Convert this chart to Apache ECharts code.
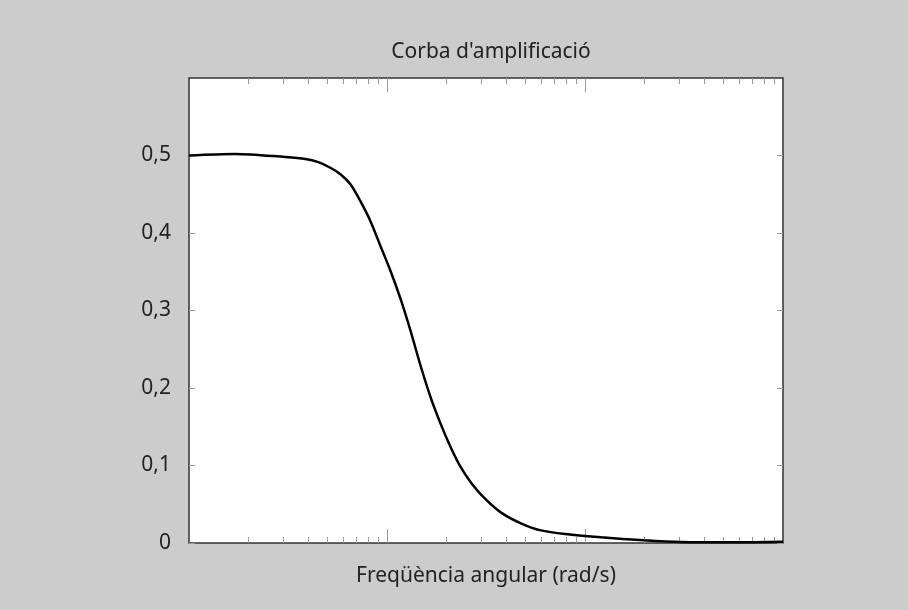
<!DOCTYPE html>
<html>
<head>
<meta charset="utf-8">
<script src="https://cdn.jsdelivr.net/npm/echarts@6/dist/echarts.min.js"></script>
<style>
  html, body { margin: 0; padding: 0; background: #cccccc; }
  #chart { width: 908px; height: 610px; }
</style>
</head>
<body>
<div id="chart"></div>
<script>
// Amplification curve: gain versus angular frequency (log scale)
const freq = [0.1, 0.171, 0.306, 0.3867, 0.45, 0.5175, 0.5818, 0.6535, 0.734, 0.825, 0.9272, 1.042, 1.171, 1.315, 1.478, 1.661, 1.866, 2.097, 2.357, 2.648, 3.081, 3.754, 4.742, 5.989, 8.201, 12.05, 19.89, 30.63, 54.86, 100];
const gain = [0.5, 0.502, 0.498, 0.4955, 0.4914, 0.4842, 0.4758, 0.4629, 0.4411, 0.4153, 0.3831, 0.351, 0.3149, 0.2737, 0.2287, 0.1879, 0.1537, 0.1236, 0.0978, 0.0785, 0.0588, 0.0395, 0.0254, 0.0163, 0.0112, 0.0073, 0.0035, 0.0013, 0.0009, 0.0015];

const majorTicks = [1, 10];
const minorTicks = [0.2, 0.3, 0.4, 0.5, 0.6, 0.7, 0.8, 0.9, 2, 3, 4, 5, 6, 7, 8, 9, 20, 30, 40, 50, 60, 70, 80, 90];
const yTicks = [0, 0.1, 0.2, 0.3, 0.4, 0.5];

const FONT = 'Noto Sans';
const FONT_SIZE = 21;
const tickColor = '#999999';

function logAxis(position, values, len, extra) {
  return Object.assign({
    type: 'log',
    logBase: 10,
    min: 0.1,
    max: 100,
    position: position,
    axisLine: { show: false },
    axisLabel: { show: false },
    splitLine: { show: false },
    axisTick: {
      show: true,
      inside: true,
      length: len,
      customValues: values,
      lineStyle: { color: tickColor, width: 1 }
    }
  }, extra || {});
}

function valAxis(position, showLabels) {
  return {
    type: 'value',
    min: 0,
    max: 0.6,
    interval: 0.1,
    position: position,
    axisLine: { show: false },
    splitLine: { show: false },
    axisTick: {
      show: true,
      inside: true,
      length: 6,
      customValues: yTicks,
      lineStyle: { color: tickColor, width: 1 }
    },
    axisLabel: {
      show: showLabels,
      customValues: yTicks,
      margin: 18,
      fontFamily: FONT,
      fontSize: FONT_SIZE,
      color: '#222222',
      formatter: v => String(+v.toFixed(1)).replace('.', ',')
    }
  };
}

const chart = echarts.init(document.getElementById('chart'), null, { renderer: 'canvas' });
chart.setOption({
  backgroundColor: '#cccccc',
  animation: false,
  title: {
    text: "Corba d'amplificació",
    left: 486,
    top: 37,
    textAlign: 'center',
    textStyle: { fontFamily: FONT, fontSize: FONT_SIZE, fontWeight: 'normal', color: '#222222' }
  },
  grid: {
    left: 189, right: 125, top: 78, bottom: 67,
    show: true,
    backgroundColor: '#ffffff',
    borderColor: '#333333',
    borderWidth: 1.5
  },
  xAxis: [
    logAxis('bottom', majorTicks, 14, {
      name: 'Freqüència angular (rad/s)',
      nameLocation: 'middle',
      nameGap: 23,
      nameTextStyle: { fontFamily: FONT, fontSize: FONT_SIZE, color: '#222222' }
    }),
    logAxis('bottom', minorTicks, 6),
    logAxis('top', majorTicks, 14),
    logAxis('top', minorTicks, 6)
  ],
  yAxis: [valAxis('left', true), valAxis('right', false)],
  series: [{
    type: 'line',
    xAxisIndex: 0,
    yAxisIndex: 0,
    data: freq.map((f, i) => [f, gain[i]]),
    smooth: 0.3,
    showSymbol: false,
    lineStyle: { color: '#000000', width: 2.5 }
  }]
});
</script>
</body>
</html>
